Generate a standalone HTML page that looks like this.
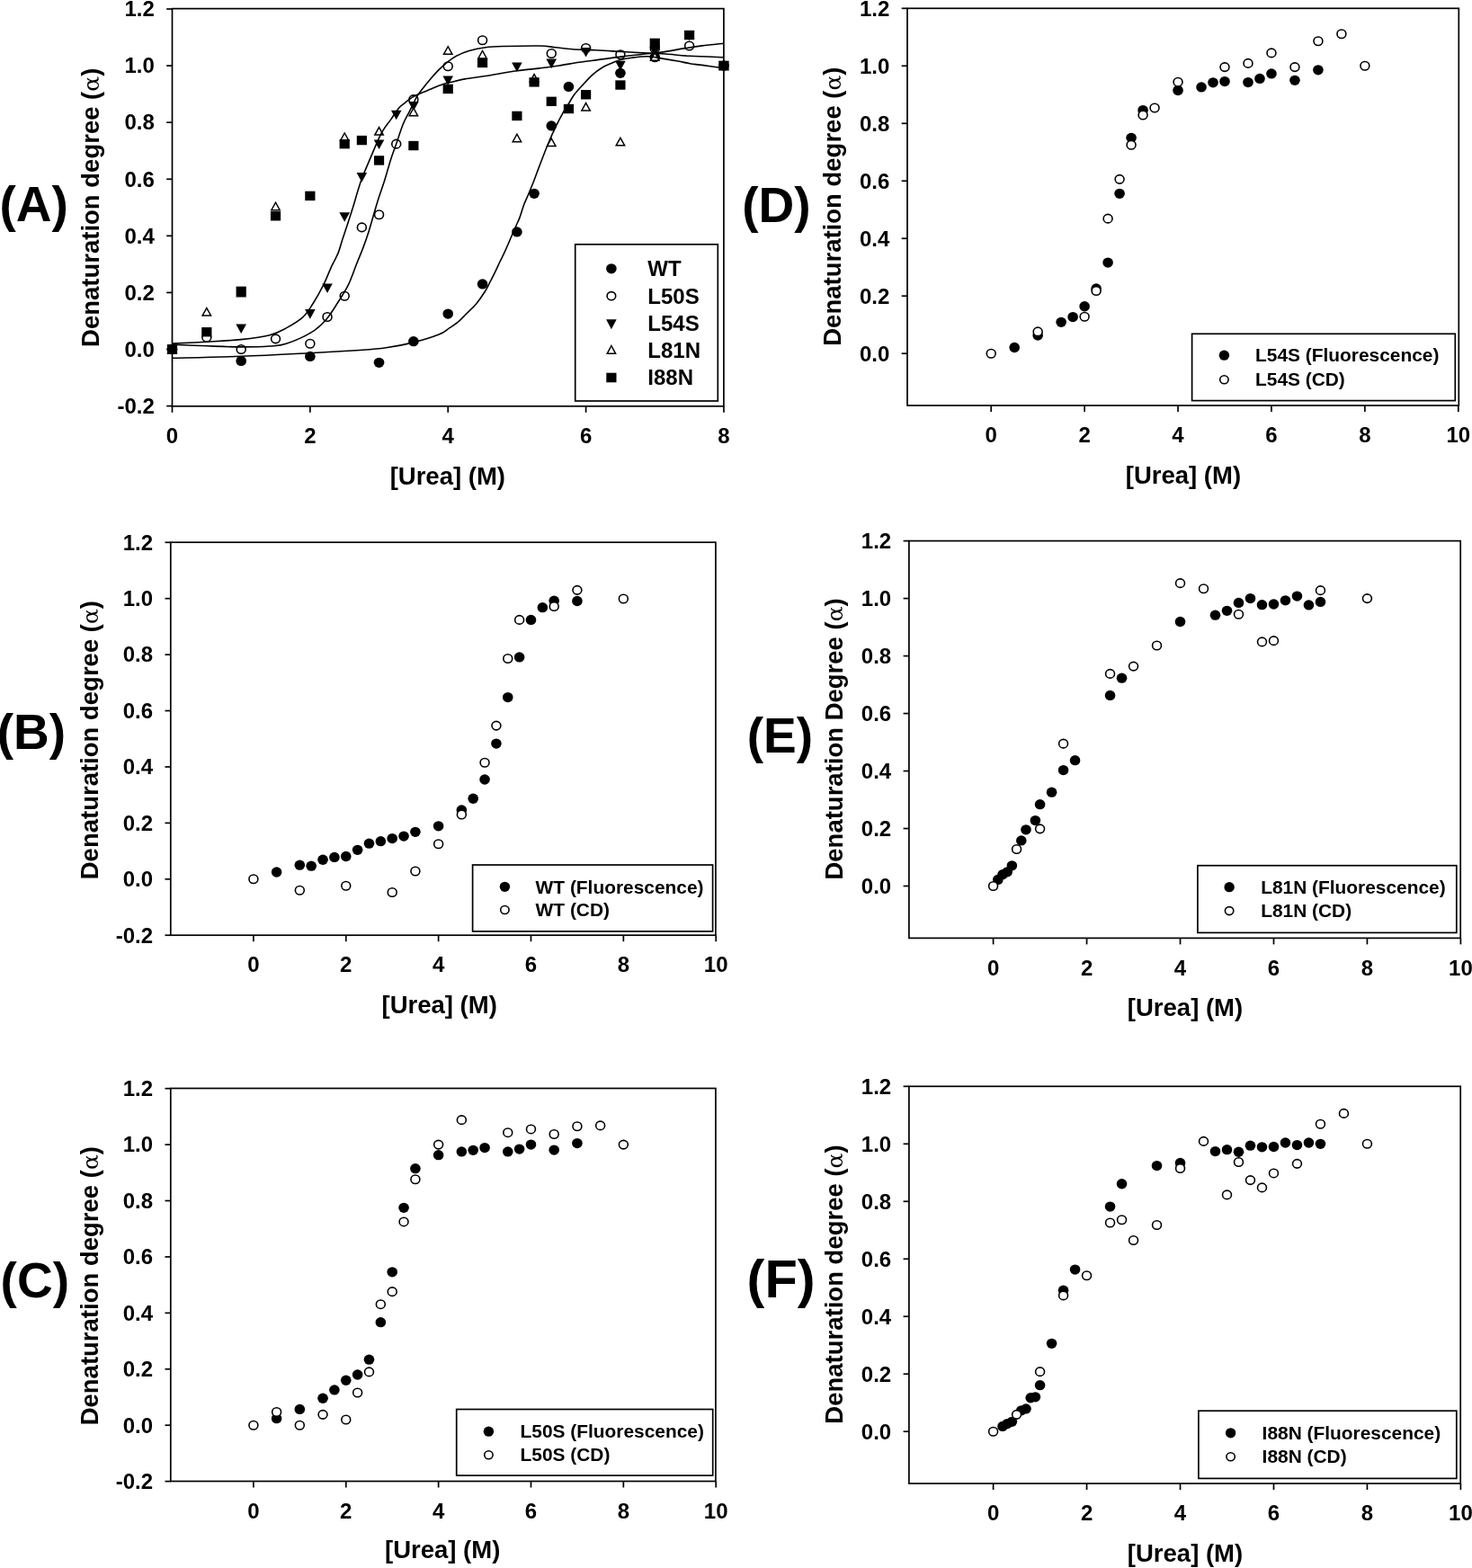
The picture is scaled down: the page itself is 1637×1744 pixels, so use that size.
<!DOCTYPE html>
<html><head><meta charset="utf-8"><title>Denaturation curves</title>
<style>html,body{margin:0;padding:0;background:#fff;}body{width:1637px;height:1744px;overflow:hidden;}svg{display:block;}</style>
</head><body>
<svg width="1637" height="1744" viewBox="0 0 1637 1744" font-family='"Liberation Sans", Arial, Helvetica, sans-serif' fill="#000">
<rect x="0" y="0" width="1637" height="1744" fill="#fff"/>
<rect x="191.5" y="9.6" width="613.4" height="442.2" fill="none" stroke="#000" stroke-width="1.7"/>
<line x1="185.2" y1="451.58" x2="191.5" y2="451.58" stroke="#000" stroke-width="1.7"/>
<text x="171.8" y="459.88" font-size="24" font-weight="bold" text-anchor="end">-0.2</text>
<line x1="185.2" y1="388.5" x2="191.5" y2="388.5" stroke="#000" stroke-width="1.7"/>
<text x="171.8" y="396.8" font-size="24" font-weight="bold" text-anchor="end">0.0</text>
<line x1="185.2" y1="325.42" x2="191.5" y2="325.42" stroke="#000" stroke-width="1.7"/>
<text x="171.8" y="333.72" font-size="24" font-weight="bold" text-anchor="end">0.2</text>
<line x1="185.2" y1="262.34" x2="191.5" y2="262.34" stroke="#000" stroke-width="1.7"/>
<text x="171.8" y="270.64" font-size="24" font-weight="bold" text-anchor="end">0.4</text>
<line x1="185.2" y1="199.26" x2="191.5" y2="199.26" stroke="#000" stroke-width="1.7"/>
<text x="171.8" y="207.56" font-size="24" font-weight="bold" text-anchor="end">0.6</text>
<line x1="185.2" y1="136.18" x2="191.5" y2="136.18" stroke="#000" stroke-width="1.7"/>
<text x="171.8" y="144.48" font-size="24" font-weight="bold" text-anchor="end">0.8</text>
<line x1="185.2" y1="73.1" x2="191.5" y2="73.1" stroke="#000" stroke-width="1.7"/>
<text x="171.8" y="81.4" font-size="24" font-weight="bold" text-anchor="end">1.0</text>
<line x1="185.2" y1="10.02" x2="191.5" y2="10.02" stroke="#000" stroke-width="1.7"/>
<text x="171.8" y="18.32" font-size="24" font-weight="bold" text-anchor="end">1.2</text>
<line x1="191.5" y1="451.8" x2="191.5" y2="458.8" stroke="#000" stroke-width="1.7"/>
<text x="191.5" y="493" font-size="24" font-weight="bold" text-anchor="middle">0</text>
<line x1="344.86" y1="451.8" x2="344.86" y2="458.8" stroke="#000" stroke-width="1.7"/>
<text x="344.86" y="493" font-size="24" font-weight="bold" text-anchor="middle">2</text>
<line x1="498.22" y1="451.8" x2="498.22" y2="458.8" stroke="#000" stroke-width="1.7"/>
<text x="498.22" y="493" font-size="24" font-weight="bold" text-anchor="middle">4</text>
<line x1="651.58" y1="451.8" x2="651.58" y2="458.8" stroke="#000" stroke-width="1.7"/>
<text x="651.58" y="493" font-size="24" font-weight="bold" text-anchor="middle">6</text>
<line x1="804.94" y1="451.8" x2="804.94" y2="458.8" stroke="#000" stroke-width="1.7"/>
<text x="804.94" y="493" font-size="24" font-weight="bold" text-anchor="middle">8</text>
<text transform="translate(109.9,230.8) rotate(-90)" font-size="27.5" font-weight="bold" text-anchor="middle">Denaturation degree (<tspan font-family="DejaVu Serif, Liberation Serif, serif" font-size="25" font-weight="normal" font-style="normal">&#945;</tspan>)</text>
<text x="497.8" y="539.2" font-size="27.5" font-weight="bold" text-anchor="middle">[Urea] (M)</text>
<text x="-0.5" y="245.5" font-size="55" font-weight="bold" text-anchor="start">(A)</text>
<ellipse cx="191.5" cy="388.5" rx="5.8" ry="5.65" fill="#000"/>
<ellipse cx="268.18" cy="401.43" rx="5.8" ry="5.65" fill="#000"/>
<ellipse cx="344.86" cy="396.38" rx="5.8" ry="5.65" fill="#000"/>
<ellipse cx="421.54" cy="403.32" rx="5.8" ry="5.65" fill="#000"/>
<ellipse cx="459.88" cy="379.67" rx="5.8" ry="5.65" fill="#000"/>
<ellipse cx="498.22" cy="349.07" rx="5.8" ry="5.65" fill="#000"/>
<ellipse cx="536.56" cy="315.96" rx="5.8" ry="5.65" fill="#000"/>
<ellipse cx="574.9" cy="257.92" rx="5.8" ry="5.65" fill="#000"/>
<ellipse cx="594.07" cy="215.35" rx="5.8" ry="5.65" fill="#000"/>
<ellipse cx="613.24" cy="139.96" rx="5.8" ry="5.65" fill="#000"/>
<ellipse cx="632.41" cy="96.44" rx="5.8" ry="5.65" fill="#000"/>
<ellipse cx="689.92" cy="81.3" rx="5.8" ry="5.65" fill="#000"/>
<ellipse cx="728.26" cy="63.64" rx="5.8" ry="5.65" fill="#000"/>
<ellipse cx="804.94" cy="73.1" rx="5.8" ry="5.65" fill="#000"/>
<ellipse cx="191.5" cy="388.5" rx="4.95" ry="4.75" fill="#fff" stroke="#000" stroke-width="1.6"/>
<ellipse cx="229.84" cy="375.25" rx="4.95" ry="4.75" fill="#fff" stroke="#000" stroke-width="1.6"/>
<ellipse cx="268.18" cy="388.5" rx="4.95" ry="4.75" fill="#fff" stroke="#000" stroke-width="1.6"/>
<ellipse cx="306.52" cy="376.83" rx="4.95" ry="4.75" fill="#fff" stroke="#000" stroke-width="1.6"/>
<ellipse cx="344.86" cy="382.19" rx="4.95" ry="4.75" fill="#fff" stroke="#000" stroke-width="1.6"/>
<ellipse cx="364.03" cy="352.54" rx="4.95" ry="4.75" fill="#fff" stroke="#000" stroke-width="1.6"/>
<ellipse cx="383.2" cy="329.2" rx="4.95" ry="4.75" fill="#fff" stroke="#000" stroke-width="1.6"/>
<ellipse cx="402.37" cy="252.88" rx="4.95" ry="4.75" fill="#fff" stroke="#000" stroke-width="1.6"/>
<ellipse cx="421.54" cy="238.69" rx="4.95" ry="4.75" fill="#fff" stroke="#000" stroke-width="1.6"/>
<ellipse cx="440.71" cy="160.15" rx="4.95" ry="4.75" fill="#fff" stroke="#000" stroke-width="1.6"/>
<ellipse cx="459.88" cy="110.63" rx="4.95" ry="4.75" fill="#fff" stroke="#000" stroke-width="1.6"/>
<ellipse cx="498.22" cy="73.73" rx="4.95" ry="4.75" fill="#fff" stroke="#000" stroke-width="1.6"/>
<ellipse cx="536.56" cy="44.71" rx="4.95" ry="4.75" fill="#fff" stroke="#000" stroke-width="1.6"/>
<ellipse cx="613.24" cy="59.54" rx="4.95" ry="4.75" fill="#fff" stroke="#000" stroke-width="1.6"/>
<ellipse cx="651.58" cy="53.55" rx="4.95" ry="4.75" fill="#fff" stroke="#000" stroke-width="1.6"/>
<ellipse cx="689.92" cy="60.8" rx="4.95" ry="4.75" fill="#fff" stroke="#000" stroke-width="1.6"/>
<ellipse cx="728.26" cy="54.18" rx="4.95" ry="4.75" fill="#fff" stroke="#000" stroke-width="1.6"/>
<ellipse cx="766.6" cy="51.02" rx="4.95" ry="4.75" fill="#fff" stroke="#000" stroke-width="1.6"/>
<ellipse cx="804.94" cy="73.1" rx="4.95" ry="4.75" fill="#fff" stroke="#000" stroke-width="1.6"/>
<polygon points="185.7,383.2 197.3,383.2 191.5,393.8" fill="#000"/>
<polygon points="262.38,360.49 273.98,360.49 268.18,371.09" fill="#000"/>
<polygon points="339.06,344.09 350.66,344.09 344.86,354.69" fill="#000"/>
<polygon points="358.23,315.39 369.83,315.39 364.03,325.99" fill="#000"/>
<polygon points="377.4,236.22 389,236.22 383.2,246.82" fill="#000"/>
<polygon points="396.57,192.07 408.17,192.07 402.37,202.67" fill="#000"/>
<polygon points="415.74,155.48 427.34,155.48 421.54,166.08" fill="#000"/>
<polygon points="434.91,122.68 446.51,122.68 440.71,133.28" fill="#000"/>
<polygon points="454.08,112.9 465.68,112.9 459.88,123.5" fill="#000"/>
<polygon points="492.42,84.52 504.02,84.52 498.22,95.12" fill="#000"/>
<polygon points="569.1,69.38 580.7,69.38 574.9,79.98" fill="#000"/>
<polygon points="607.44,65.59 619.04,65.59 613.24,76.19" fill="#000"/>
<polygon points="645.78,52.98 657.38,52.98 651.58,63.58" fill="#000"/>
<polygon points="684.12,67.8 695.72,67.8 689.92,78.4" fill="#000"/>
<polygon points="722.46,52.03 734.06,52.03 728.26,62.63" fill="#000"/>
<polygon points="760.8,34.68 772.4,34.68 766.6,45.28" fill="#000"/>
<polygon points="799.14,67.8 810.74,67.8 804.94,78.4" fill="#000"/>
<polygon points="186.8,392.95 196.2,392.95 191.5,384.5" fill="#fff" stroke="#000" stroke-width="1.5" stroke-linejoin="miter"/>
<polygon points="225.14,351 234.54,351 229.84,342.55" fill="#fff" stroke="#000" stroke-width="1.5" stroke-linejoin="miter"/>
<polygon points="263.48,329.87 272.88,329.87 268.18,321.42" fill="#fff" stroke="#000" stroke-width="1.5" stroke-linejoin="miter"/>
<polygon points="301.82,233.67 311.22,233.67 306.52,225.22" fill="#fff" stroke="#000" stroke-width="1.5" stroke-linejoin="miter"/>
<polygon points="378.5,156.4 387.9,156.4 383.2,147.95" fill="#fff" stroke="#000" stroke-width="1.5" stroke-linejoin="miter"/>
<polygon points="416.84,150.09 426.24,150.09 421.54,141.64" fill="#fff" stroke="#000" stroke-width="1.5" stroke-linejoin="miter"/>
<polygon points="455.18,128.64 464.58,128.64 459.88,120.19" fill="#fff" stroke="#000" stroke-width="1.5" stroke-linejoin="miter"/>
<polygon points="493.52,60.2 502.92,60.2 498.22,51.75" fill="#fff" stroke="#000" stroke-width="1.5" stroke-linejoin="miter"/>
<polygon points="531.86,64.93 541.26,64.93 536.56,56.48" fill="#fff" stroke="#000" stroke-width="1.5" stroke-linejoin="miter"/>
<polygon points="570.2,157.66 579.6,157.66 574.9,149.21" fill="#fff" stroke="#000" stroke-width="1.5" stroke-linejoin="miter"/>
<polygon points="589.37,91.11 598.77,91.11 594.07,82.66" fill="#fff" stroke="#000" stroke-width="1.5" stroke-linejoin="miter"/>
<polygon points="608.54,162.39 617.94,162.39 613.24,153.94" fill="#fff" stroke="#000" stroke-width="1.5" stroke-linejoin="miter"/>
<polygon points="646.88,122.97 656.28,122.97 651.58,114.52" fill="#fff" stroke="#000" stroke-width="1.5" stroke-linejoin="miter"/>
<polygon points="685.22,161.76 694.62,161.76 689.92,153.31" fill="#fff" stroke="#000" stroke-width="1.5" stroke-linejoin="miter"/>
<polygon points="723.56,67.14 732.96,67.14 728.26,58.69" fill="#fff" stroke="#000" stroke-width="1.5" stroke-linejoin="miter"/>
<polygon points="800.24,77.55 809.64,77.55 804.94,69.1" fill="#fff" stroke="#000" stroke-width="1.5" stroke-linejoin="miter"/>
<rect x="185.9" y="383.3" width="11.2" height="10.4" fill="#000"/>
<rect x="224.24" y="364.06" width="11.2" height="10.4" fill="#000"/>
<rect x="262.58" y="318.64" width="11.2" height="10.4" fill="#000"/>
<rect x="300.92" y="235.06" width="11.2" height="10.4" fill="#000"/>
<rect x="339.26" y="212.67" width="11.2" height="10.4" fill="#000"/>
<rect x="377.6" y="154.95" width="11.2" height="10.4" fill="#000"/>
<rect x="396.77" y="150.85" width="11.2" height="10.4" fill="#000"/>
<rect x="415.94" y="173.24" width="11.2" height="10.4" fill="#000"/>
<rect x="454.28" y="156.84" width="11.2" height="10.4" fill="#000"/>
<rect x="492.62" y="93.76" width="11.2" height="10.4" fill="#000"/>
<rect x="530.96" y="64.75" width="11.2" height="10.4" fill="#000"/>
<rect x="569.3" y="123.73" width="11.2" height="10.4" fill="#000"/>
<rect x="588.47" y="86.19" width="11.2" height="10.4" fill="#000"/>
<rect x="607.64" y="107.64" width="11.2" height="10.4" fill="#000"/>
<rect x="626.81" y="115.84" width="11.2" height="10.4" fill="#000"/>
<rect x="645.98" y="100.07" width="11.2" height="10.4" fill="#000"/>
<rect x="684.32" y="89.35" width="11.2" height="10.4" fill="#000"/>
<rect x="722.66" y="42.67" width="11.2" height="10.4" fill="#000"/>
<rect x="761" y="33.84" width="11.2" height="10.4" fill="#000"/>
<rect x="799.34" y="67.9" width="11.2" height="10.4" fill="#000"/>
<path d="M191.5,398.3 C204.28,397.97 242.82,397.23 268.2,396.3 C293.58,395.37 321.83,393.83 343.8,392.7 C365.77,391.57 385.75,390.48 400,389.5 C414.25,388.52 419.33,388.23 429.3,386.8 C439.27,385.37 450.02,383.35 459.8,380.9 C469.58,378.45 481.3,374.8 488,372.1 C494.7,369.4 496.38,367.07 500,364.7 C503.62,362.33 506.62,360.5 509.7,357.9 C512.78,355.3 515.25,352.35 518.5,349.1 C521.75,345.85 525.78,342.45 529.2,338.4 C532.62,334.35 536.4,328.87 539,324.8 C541.6,320.73 542.85,317.75 544.8,314 C546.75,310.25 548.83,306.13 550.7,302.3 C552.57,298.47 554.22,294.73 556,291 C557.78,287.27 559.37,284.35 561.4,279.9 C563.43,275.45 566.08,269.17 568.2,264.3 C570.32,259.43 572.47,254.43 574.1,250.7 C575.73,246.97 576.55,245.8 578,241.9 C579.45,238 581.18,231.62 582.8,227.3 C584.42,222.98 585.83,220.47 587.7,216 C589.57,211.53 591.95,205.77 594,200.5 C596.05,195.23 597.42,191.15 600,184.4 C602.58,177.65 606.45,167.33 609.5,160 C612.55,152.67 615.37,146.47 618.3,140.4 C621.23,134.33 624.77,127.75 627.1,123.6 C629.43,119.45 630.47,118.43 632.3,115.5 C634.13,112.57 635.67,109.3 638.1,106 C640.53,102.7 643.47,99.48 646.9,95.7 C650.33,91.92 654.92,86.72 658.7,83.3 C662.48,79.88 665.95,77.4 669.6,75.2 C673.25,73 677.17,71.57 680.6,70.1 C684.03,68.63 686.53,67.38 690.2,66.4 C693.87,65.42 697.63,64.82 702.6,64.2 C707.57,63.58 714.83,62.63 720,62.7 C725.17,62.77 727.97,63.72 733.6,64.6 C739.23,65.48 748.2,66.98 753.8,68 C759.4,69.02 762.73,69.97 767.2,70.7 C771.67,71.43 774.32,71.55 780.6,72.4 C786.88,73.25 800.85,75.23 804.9,75.8" fill="none" stroke="#000" stroke-width="1.6"/>
<path d="M191.5,383.2 C197.92,383.47 217.23,384.35 230,384.8 C242.77,385.25 256.43,385.87 268.1,385.9 C279.77,385.93 291.63,385.6 300,385 C308.37,384.4 310.65,384.82 318.3,382.3 C325.95,379.78 338.55,374.33 345.9,369.9 C353.25,365.47 357.52,361.13 362.4,355.7 C367.28,350.27 371.07,343.72 375.2,337.3 C379.33,330.88 383.68,324.38 387.2,317.2 C390.72,310.02 393.55,301.08 396.3,294.2 C399.05,287.32 401.4,282.02 403.7,275.9 C406,269.78 407.97,264.23 410.1,257.5 C412.23,250.77 414.6,241.92 416.5,235.5 C418.4,229.08 419.6,224.92 421.5,219 C423.4,213.08 425.7,207.02 427.9,200 C430.1,192.98 432.58,183.53 434.7,176.9 C436.82,170.27 438.32,166.72 440.6,160.2 C442.88,153.68 445.95,143.82 448.4,137.8 C450.85,131.78 452.85,129 455.3,124.1 C457.75,119.2 460.67,112.63 463.1,108.4 C465.53,104.17 467.45,101.95 469.9,98.7 C472.35,95.45 474.87,92.33 477.8,88.9 C480.73,85.47 484.25,81.37 487.5,78.1 C490.75,74.83 494.03,71.9 497.3,69.3 C500.57,66.7 503.03,64.62 507.1,62.5 C511.17,60.38 516.22,58.23 521.7,56.6 C527.18,54.97 533.62,53.55 540,52.7 C546.38,51.85 550,51.78 560,51.5 C570,51.22 590.28,50.78 600,51 C609.72,51.22 612.18,52.18 618.3,52.8 C624.42,53.42 629.37,54.2 636.7,54.7 C644.03,55.2 654.98,55.43 662.3,55.8 C669.62,56.17 670.98,56.35 680.6,56.9 C690.22,57.45 710.05,58.58 720,59.1 C729.95,59.62 732.43,59.47 740.3,60 C748.17,60.53 756.43,61.67 767.2,62.3 C777.97,62.93 798.62,63.55 804.9,63.8" fill="none" stroke="#000" stroke-width="1.6"/>
<path d="M191.5,382.1 C197.92,381.78 217.23,380.95 230,380.2 C242.77,379.45 256.43,378.85 268.1,377.6 C279.77,376.35 291.63,374.82 300,372.7 C308.37,370.58 312.18,368.2 318.3,364.9 C324.42,361.6 331.8,357.33 336.7,352.9 C341.6,348.47 343.88,344.25 347.7,338.3 C351.52,332.35 356.08,324.23 359.6,317.2 C363.12,310.17 366.05,302.07 368.8,296.1 C371.55,290.13 374.12,286.3 376.1,281.4 C378.08,276.5 379.02,271.9 380.7,266.7 C382.38,261.5 384.2,256.32 386.2,250.2 C388.2,244.08 390.73,236.37 392.7,230 C394.67,223.63 396.28,217.5 398,212 C399.72,206.5 400.62,203.18 403,197 C405.38,190.82 409.13,182.33 412.3,174.9 C415.47,167.47 419.57,157.62 422,152.4 C424.43,147.18 424.78,146.85 426.9,143.6 C429.02,140.35 431.93,136.8 434.7,132.9 C437.47,129 440.88,123.3 443.5,120.2 C446.12,117.1 447.95,116.27 450.4,114.3 C452.85,112.33 455.6,110.03 458.2,108.4 C460.8,106.77 462.73,105.97 466,104.5 C469.27,103.03 473.4,101.38 477.8,99.6 C482.2,97.82 488.33,95.18 492.4,93.8 C496.47,92.42 498.12,92.28 502.2,91.3 C506.28,90.32 510.6,89.03 516.9,87.9 C523.2,86.77 530.35,86.02 540,84.5 C549.65,82.98 564.8,80.23 574.8,78.8 C584.8,77.37 592.13,76.87 600,75.9 C607.87,74.93 614.67,74.1 622,73 C629.33,71.9 636.67,70.4 644,69.3 C651.33,68.2 657.93,67.47 666,66.4 C674.07,65.33 681.13,64.25 692.4,62.9 C703.67,61.55 722.25,59.8 733.6,58.3 C744.95,56.8 752.67,55.13 760.5,53.9 C768.33,52.67 773.2,51.85 780.6,50.9 C788,49.95 800.85,48.65 804.9,48.2" fill="none" stroke="#000" stroke-width="1.6"/>
<rect x="639.7" y="271.8" width="158.6" height="174.2" fill="#fff" stroke="#000" stroke-width="1.7"/>
<ellipse cx="679.9" cy="298.8" rx="5.8" ry="5.6" fill="#000"/>
<ellipse cx="679.9" cy="329.2" rx="4.8" ry="4.6" fill="#fff" stroke="#000" stroke-width="1.6"/>
<polygon points="674.1,355.2 685.7,355.2 679.9,366.2" fill="#000"/>
<polygon points="675.2,393.35 684.6,393.35 679.9,384.5" fill="#fff" stroke="#000" stroke-width="1.5" stroke-linejoin="miter"/>
<rect x="674.3" y="414.7" width="11.2" height="10.6" fill="#000"/>
<text x="720.3" y="307.2" font-size="24" font-weight="bold" text-anchor="start">WT</text>
<text x="720.3" y="337.8" font-size="24" font-weight="bold" text-anchor="start">L50S</text>
<text x="720.3" y="368.4" font-size="24" font-weight="bold" text-anchor="start">L54S</text>
<text x="720.3" y="398.2" font-size="24" font-weight="bold" text-anchor="start">L81N</text>
<text x="720.3" y="428" font-size="24" font-weight="bold" text-anchor="start">I88N</text>
<rect x="189.8" y="603.2" width="606.1" height="437" fill="none" stroke="#000" stroke-width="1.7"/>
<line x1="183.5" y1="1040.22" x2="189.8" y2="1040.22" stroke="#000" stroke-width="1.7"/>
<text x="170.1" y="1048.52" font-size="24" font-weight="bold" text-anchor="end">-0.2</text>
<line x1="183.5" y1="977.8" x2="189.8" y2="977.8" stroke="#000" stroke-width="1.7"/>
<text x="170.1" y="986.1" font-size="24" font-weight="bold" text-anchor="end">0.0</text>
<line x1="183.5" y1="915.38" x2="189.8" y2="915.38" stroke="#000" stroke-width="1.7"/>
<text x="170.1" y="923.68" font-size="24" font-weight="bold" text-anchor="end">0.2</text>
<line x1="183.5" y1="852.96" x2="189.8" y2="852.96" stroke="#000" stroke-width="1.7"/>
<text x="170.1" y="861.26" font-size="24" font-weight="bold" text-anchor="end">0.4</text>
<line x1="183.5" y1="790.54" x2="189.8" y2="790.54" stroke="#000" stroke-width="1.7"/>
<text x="170.1" y="798.84" font-size="24" font-weight="bold" text-anchor="end">0.6</text>
<line x1="183.5" y1="728.12" x2="189.8" y2="728.12" stroke="#000" stroke-width="1.7"/>
<text x="170.1" y="736.42" font-size="24" font-weight="bold" text-anchor="end">0.8</text>
<line x1="183.5" y1="665.7" x2="189.8" y2="665.7" stroke="#000" stroke-width="1.7"/>
<text x="170.1" y="674" font-size="24" font-weight="bold" text-anchor="end">1.0</text>
<line x1="183.5" y1="603.28" x2="189.8" y2="603.28" stroke="#000" stroke-width="1.7"/>
<text x="170.1" y="611.58" font-size="24" font-weight="bold" text-anchor="end">1.2</text>
<line x1="281.9" y1="1040.2" x2="281.9" y2="1047.2" stroke="#000" stroke-width="1.7"/>
<text x="281.9" y="1081.4" font-size="24" font-weight="bold" text-anchor="middle">0</text>
<line x1="384.76" y1="1040.2" x2="384.76" y2="1047.2" stroke="#000" stroke-width="1.7"/>
<text x="384.76" y="1081.4" font-size="24" font-weight="bold" text-anchor="middle">2</text>
<line x1="487.62" y1="1040.2" x2="487.62" y2="1047.2" stroke="#000" stroke-width="1.7"/>
<text x="487.62" y="1081.4" font-size="24" font-weight="bold" text-anchor="middle">4</text>
<line x1="590.48" y1="1040.2" x2="590.48" y2="1047.2" stroke="#000" stroke-width="1.7"/>
<text x="590.48" y="1081.4" font-size="24" font-weight="bold" text-anchor="middle">6</text>
<line x1="693.34" y1="1040.2" x2="693.34" y2="1047.2" stroke="#000" stroke-width="1.7"/>
<text x="693.34" y="1081.4" font-size="24" font-weight="bold" text-anchor="middle">8</text>
<line x1="796.2" y1="1040.2" x2="796.2" y2="1047.2" stroke="#000" stroke-width="1.7"/>
<text x="796.2" y="1081.4" font-size="24" font-weight="bold" text-anchor="middle">10</text>
<text transform="translate(108.9,823.1) rotate(-90)" font-size="27.5" font-weight="bold" text-anchor="middle">Denaturation degree (<tspan font-family="DejaVu Serif, Liberation Serif, serif" font-size="25" font-weight="normal" font-style="normal">&#945;</tspan>)</text>
<text x="488.7" y="1126.7" font-size="27.5" font-weight="bold" text-anchor="middle">[Urea] (M)</text>
<text x="-3.3" y="832.6" font-size="55" font-weight="bold" text-anchor="start">(B)</text>
<ellipse cx="307.61" cy="970" rx="5.8" ry="5.65" fill="#000"/>
<ellipse cx="333.33" cy="962.19" rx="5.8" ry="5.65" fill="#000"/>
<ellipse cx="346.19" cy="963.13" rx="5.8" ry="5.65" fill="#000"/>
<ellipse cx="359.04" cy="956.27" rx="5.8" ry="5.65" fill="#000"/>
<ellipse cx="371.9" cy="953.46" rx="5.8" ry="5.65" fill="#000"/>
<ellipse cx="384.76" cy="952.52" rx="5.8" ry="5.65" fill="#000"/>
<ellipse cx="397.62" cy="945.34" rx="5.8" ry="5.65" fill="#000"/>
<ellipse cx="410.47" cy="938.16" rx="5.8" ry="5.65" fill="#000"/>
<ellipse cx="423.33" cy="935.67" rx="5.8" ry="5.65" fill="#000"/>
<ellipse cx="436.19" cy="932.55" rx="5.8" ry="5.65" fill="#000"/>
<ellipse cx="449.05" cy="930.05" rx="5.8" ry="5.65" fill="#000"/>
<ellipse cx="461.9" cy="925.37" rx="5.8" ry="5.65" fill="#000"/>
<ellipse cx="487.62" cy="918.81" rx="5.8" ry="5.65" fill="#000"/>
<ellipse cx="513.34" cy="901.02" rx="5.8" ry="5.65" fill="#000"/>
<ellipse cx="526.19" cy="888.23" rx="5.8" ry="5.65" fill="#000"/>
<ellipse cx="539.05" cy="867" rx="5.8" ry="5.65" fill="#000"/>
<ellipse cx="551.91" cy="827.06" rx="5.8" ry="5.65" fill="#000"/>
<ellipse cx="564.76" cy="775.56" rx="5.8" ry="5.65" fill="#000"/>
<ellipse cx="577.62" cy="730.93" rx="5.8" ry="5.65" fill="#000"/>
<ellipse cx="590.48" cy="689.42" rx="5.8" ry="5.65" fill="#000"/>
<ellipse cx="603.34" cy="675.69" rx="5.8" ry="5.65" fill="#000"/>
<ellipse cx="616.19" cy="668.2" rx="5.8" ry="5.65" fill="#000"/>
<ellipse cx="641.91" cy="668.51" rx="5.8" ry="5.65" fill="#000"/>
<ellipse cx="281.9" cy="977.8" rx="4.95" ry="4.75" fill="#fff" stroke="#000" stroke-width="1.6"/>
<ellipse cx="333.33" cy="990.28" rx="4.95" ry="4.75" fill="#fff" stroke="#000" stroke-width="1.6"/>
<ellipse cx="384.76" cy="985.29" rx="4.95" ry="4.75" fill="#fff" stroke="#000" stroke-width="1.6"/>
<ellipse cx="436.19" cy="992.47" rx="4.95" ry="4.75" fill="#fff" stroke="#000" stroke-width="1.6"/>
<ellipse cx="461.9" cy="969.06" rx="4.95" ry="4.75" fill="#fff" stroke="#000" stroke-width="1.6"/>
<ellipse cx="487.62" cy="938.79" rx="4.95" ry="4.75" fill="#fff" stroke="#000" stroke-width="1.6"/>
<ellipse cx="513.34" cy="906.02" rx="4.95" ry="4.75" fill="#fff" stroke="#000" stroke-width="1.6"/>
<ellipse cx="539.05" cy="848.28" rx="4.95" ry="4.75" fill="#fff" stroke="#000" stroke-width="1.6"/>
<ellipse cx="551.91" cy="807.08" rx="4.95" ry="4.75" fill="#fff" stroke="#000" stroke-width="1.6"/>
<ellipse cx="564.76" cy="732.49" rx="4.95" ry="4.75" fill="#fff" stroke="#000" stroke-width="1.6"/>
<ellipse cx="577.62" cy="689.42" rx="4.95" ry="4.75" fill="#fff" stroke="#000" stroke-width="1.6"/>
<ellipse cx="616.19" cy="674.44" rx="4.95" ry="4.75" fill="#fff" stroke="#000" stroke-width="1.6"/>
<ellipse cx="641.91" cy="656.34" rx="4.95" ry="4.75" fill="#fff" stroke="#000" stroke-width="1.6"/>
<ellipse cx="693.34" cy="666.01" rx="4.95" ry="4.75" fill="#fff" stroke="#000" stroke-width="1.6"/>
<rect x="525.6" y="962" width="267" height="73.9" fill="#fff" stroke="#000" stroke-width="1.7"/>
<ellipse cx="561.4" cy="986.3" rx="5.7" ry="5.6" fill="#000"/>
<ellipse cx="561.4" cy="1012" rx="4.7" ry="4.5" fill="#fff" stroke="#000" stroke-width="1.6"/>
<text x="595.6" y="993.5" font-size="20.9" font-weight="bold" text-anchor="start">WT (Fluorescence)</text>
<text x="595.6" y="1019.2" font-size="20.9" font-weight="bold" text-anchor="start">WT (CD)</text>
<rect x="189.8" y="1210.5" width="606.1" height="437" fill="none" stroke="#000" stroke-width="1.7"/>
<line x1="183.5" y1="1647.62" x2="189.8" y2="1647.62" stroke="#000" stroke-width="1.7"/>
<text x="170.1" y="1655.92" font-size="24" font-weight="bold" text-anchor="end">-0.2</text>
<line x1="183.5" y1="1585.2" x2="189.8" y2="1585.2" stroke="#000" stroke-width="1.7"/>
<text x="170.1" y="1593.5" font-size="24" font-weight="bold" text-anchor="end">0.0</text>
<line x1="183.5" y1="1522.78" x2="189.8" y2="1522.78" stroke="#000" stroke-width="1.7"/>
<text x="170.1" y="1531.08" font-size="24" font-weight="bold" text-anchor="end">0.2</text>
<line x1="183.5" y1="1460.36" x2="189.8" y2="1460.36" stroke="#000" stroke-width="1.7"/>
<text x="170.1" y="1468.66" font-size="24" font-weight="bold" text-anchor="end">0.4</text>
<line x1="183.5" y1="1397.94" x2="189.8" y2="1397.94" stroke="#000" stroke-width="1.7"/>
<text x="170.1" y="1406.24" font-size="24" font-weight="bold" text-anchor="end">0.6</text>
<line x1="183.5" y1="1335.52" x2="189.8" y2="1335.52" stroke="#000" stroke-width="1.7"/>
<text x="170.1" y="1343.82" font-size="24" font-weight="bold" text-anchor="end">0.8</text>
<line x1="183.5" y1="1273.1" x2="189.8" y2="1273.1" stroke="#000" stroke-width="1.7"/>
<text x="170.1" y="1281.4" font-size="24" font-weight="bold" text-anchor="end">1.0</text>
<line x1="183.5" y1="1210.68" x2="189.8" y2="1210.68" stroke="#000" stroke-width="1.7"/>
<text x="170.1" y="1218.98" font-size="24" font-weight="bold" text-anchor="end">1.2</text>
<line x1="281.9" y1="1647.5" x2="281.9" y2="1654.5" stroke="#000" stroke-width="1.7"/>
<text x="281.9" y="1688.7" font-size="24" font-weight="bold" text-anchor="middle">0</text>
<line x1="384.76" y1="1647.5" x2="384.76" y2="1654.5" stroke="#000" stroke-width="1.7"/>
<text x="384.76" y="1688.7" font-size="24" font-weight="bold" text-anchor="middle">2</text>
<line x1="487.62" y1="1647.5" x2="487.62" y2="1654.5" stroke="#000" stroke-width="1.7"/>
<text x="487.62" y="1688.7" font-size="24" font-weight="bold" text-anchor="middle">4</text>
<line x1="590.48" y1="1647.5" x2="590.48" y2="1654.5" stroke="#000" stroke-width="1.7"/>
<text x="590.48" y="1688.7" font-size="24" font-weight="bold" text-anchor="middle">6</text>
<line x1="693.34" y1="1647.5" x2="693.34" y2="1654.5" stroke="#000" stroke-width="1.7"/>
<text x="693.34" y="1688.7" font-size="24" font-weight="bold" text-anchor="middle">8</text>
<line x1="796.2" y1="1647.5" x2="796.2" y2="1654.5" stroke="#000" stroke-width="1.7"/>
<text x="796.2" y="1688.7" font-size="24" font-weight="bold" text-anchor="middle">10</text>
<text transform="translate(108.9,1430.2) rotate(-90)" font-size="27.5" font-weight="bold" text-anchor="middle">Denaturation degree (<tspan font-family="DejaVu Serif, Liberation Serif, serif" font-size="25" font-weight="normal" font-style="normal">&#945;</tspan>)</text>
<text x="492.2" y="1733" font-size="27.5" font-weight="bold" text-anchor="middle">[Urea] (M)</text>
<text x="0.6" y="1442.6" font-size="55" font-weight="bold" text-anchor="start">(C)</text>
<ellipse cx="307.61" cy="1577.71" rx="5.8" ry="5.65" fill="#000"/>
<ellipse cx="333.33" cy="1567.41" rx="5.8" ry="5.65" fill="#000"/>
<ellipse cx="359.04" cy="1555.24" rx="5.8" ry="5.65" fill="#000"/>
<ellipse cx="371.9" cy="1545.88" rx="5.8" ry="5.65" fill="#000"/>
<ellipse cx="384.76" cy="1535.26" rx="5.8" ry="5.65" fill="#000"/>
<ellipse cx="397.62" cy="1529.02" rx="5.8" ry="5.65" fill="#000"/>
<ellipse cx="410.47" cy="1512.17" rx="5.8" ry="5.65" fill="#000"/>
<ellipse cx="423.33" cy="1470.66" rx="5.8" ry="5.65" fill="#000"/>
<ellipse cx="436.19" cy="1414.79" rx="5.8" ry="5.65" fill="#000"/>
<ellipse cx="449.05" cy="1343.32" rx="5.8" ry="5.65" fill="#000"/>
<ellipse cx="461.9" cy="1299.63" rx="5.8" ry="5.65" fill="#000"/>
<ellipse cx="487.62" cy="1284.65" rx="5.8" ry="5.65" fill="#000"/>
<ellipse cx="513.34" cy="1280.9" rx="5.8" ry="5.65" fill="#000"/>
<ellipse cx="526.19" cy="1279.34" rx="5.8" ry="5.65" fill="#000"/>
<ellipse cx="539.05" cy="1276.53" rx="5.8" ry="5.65" fill="#000"/>
<ellipse cx="564.76" cy="1280.9" rx="5.8" ry="5.65" fill="#000"/>
<ellipse cx="577.62" cy="1278.09" rx="5.8" ry="5.65" fill="#000"/>
<ellipse cx="590.48" cy="1273.1" rx="5.8" ry="5.65" fill="#000"/>
<ellipse cx="616.19" cy="1279.03" rx="5.8" ry="5.65" fill="#000"/>
<ellipse cx="641.91" cy="1271.54" rx="5.8" ry="5.65" fill="#000"/>
<ellipse cx="281.9" cy="1585.2" rx="4.95" ry="4.75" fill="#fff" stroke="#000" stroke-width="1.6"/>
<ellipse cx="307.61" cy="1570.53" rx="4.95" ry="4.75" fill="#fff" stroke="#000" stroke-width="1.6"/>
<ellipse cx="333.33" cy="1585.2" rx="4.95" ry="4.75" fill="#fff" stroke="#000" stroke-width="1.6"/>
<ellipse cx="359.04" cy="1573.34" rx="4.95" ry="4.75" fill="#fff" stroke="#000" stroke-width="1.6"/>
<ellipse cx="384.76" cy="1578.96" rx="4.95" ry="4.75" fill="#fff" stroke="#000" stroke-width="1.6"/>
<ellipse cx="397.62" cy="1549" rx="4.95" ry="4.75" fill="#fff" stroke="#000" stroke-width="1.6"/>
<ellipse cx="410.47" cy="1525.9" rx="4.95" ry="4.75" fill="#fff" stroke="#000" stroke-width="1.6"/>
<ellipse cx="423.33" cy="1450.68" rx="4.95" ry="4.75" fill="#fff" stroke="#000" stroke-width="1.6"/>
<ellipse cx="436.19" cy="1436.64" rx="4.95" ry="4.75" fill="#fff" stroke="#000" stroke-width="1.6"/>
<ellipse cx="449.05" cy="1358.93" rx="4.95" ry="4.75" fill="#fff" stroke="#000" stroke-width="1.6"/>
<ellipse cx="461.9" cy="1311.8" rx="4.95" ry="4.75" fill="#fff" stroke="#000" stroke-width="1.6"/>
<ellipse cx="487.62" cy="1273.1" rx="4.95" ry="4.75" fill="#fff" stroke="#000" stroke-width="1.6"/>
<ellipse cx="513.34" cy="1245.64" rx="4.95" ry="4.75" fill="#fff" stroke="#000" stroke-width="1.6"/>
<ellipse cx="564.76" cy="1259.68" rx="4.95" ry="4.75" fill="#fff" stroke="#000" stroke-width="1.6"/>
<ellipse cx="590.48" cy="1255.93" rx="4.95" ry="4.75" fill="#fff" stroke="#000" stroke-width="1.6"/>
<ellipse cx="616.19" cy="1261.55" rx="4.95" ry="4.75" fill="#fff" stroke="#000" stroke-width="1.6"/>
<ellipse cx="641.91" cy="1252.81" rx="4.95" ry="4.75" fill="#fff" stroke="#000" stroke-width="1.6"/>
<ellipse cx="667.62" cy="1251.88" rx="4.95" ry="4.75" fill="#fff" stroke="#000" stroke-width="1.6"/>
<ellipse cx="693.34" cy="1273.1" rx="4.95" ry="4.75" fill="#fff" stroke="#000" stroke-width="1.6"/>
<rect x="507.7" y="1567.5" width="285" height="73.6" fill="#fff" stroke="#000" stroke-width="1.7"/>
<ellipse cx="543.4" cy="1592.2" rx="5.7" ry="5.6" fill="#000"/>
<ellipse cx="543.4" cy="1618.2" rx="4.7" ry="4.5" fill="#fff" stroke="#000" stroke-width="1.6"/>
<text x="578.6" y="1599.4" font-size="20.9" font-weight="bold" text-anchor="start">L50S (Fluorescence)</text>
<text x="578.6" y="1625.4" font-size="20.9" font-weight="bold" text-anchor="start">L50S (CD)</text>
<rect x="1009" y="9.3" width="613.3" height="441.7" fill="none" stroke="#000" stroke-width="1.7"/>
<line x1="1002.7" y1="393.2" x2="1009" y2="393.2" stroke="#000" stroke-width="1.7"/>
<text x="989.3" y="401.5" font-size="24" font-weight="bold" text-anchor="end">0.0</text>
<line x1="1002.7" y1="329.22" x2="1009" y2="329.22" stroke="#000" stroke-width="1.7"/>
<text x="989.3" y="337.52" font-size="24" font-weight="bold" text-anchor="end">0.2</text>
<line x1="1002.7" y1="265.24" x2="1009" y2="265.24" stroke="#000" stroke-width="1.7"/>
<text x="989.3" y="273.54" font-size="24" font-weight="bold" text-anchor="end">0.4</text>
<line x1="1002.7" y1="201.26" x2="1009" y2="201.26" stroke="#000" stroke-width="1.7"/>
<text x="989.3" y="209.56" font-size="24" font-weight="bold" text-anchor="end">0.6</text>
<line x1="1002.7" y1="137.28" x2="1009" y2="137.28" stroke="#000" stroke-width="1.7"/>
<text x="989.3" y="145.58" font-size="24" font-weight="bold" text-anchor="end">0.8</text>
<line x1="1002.7" y1="73.3" x2="1009" y2="73.3" stroke="#000" stroke-width="1.7"/>
<text x="989.3" y="81.6" font-size="24" font-weight="bold" text-anchor="end">1.0</text>
<line x1="1002.7" y1="9.32" x2="1009" y2="9.32" stroke="#000" stroke-width="1.7"/>
<text x="989.3" y="17.62" font-size="24" font-weight="bold" text-anchor="end">1.2</text>
<line x1="1102.2" y1="451" x2="1102.2" y2="458" stroke="#000" stroke-width="1.7"/>
<text x="1102.2" y="492.2" font-size="24" font-weight="bold" text-anchor="middle">0</text>
<line x1="1206.12" y1="451" x2="1206.12" y2="458" stroke="#000" stroke-width="1.7"/>
<text x="1206.12" y="492.2" font-size="24" font-weight="bold" text-anchor="middle">2</text>
<line x1="1310.04" y1="451" x2="1310.04" y2="458" stroke="#000" stroke-width="1.7"/>
<text x="1310.04" y="492.2" font-size="24" font-weight="bold" text-anchor="middle">4</text>
<line x1="1413.96" y1="451" x2="1413.96" y2="458" stroke="#000" stroke-width="1.7"/>
<text x="1413.96" y="492.2" font-size="24" font-weight="bold" text-anchor="middle">6</text>
<line x1="1517.88" y1="451" x2="1517.88" y2="458" stroke="#000" stroke-width="1.7"/>
<text x="1517.88" y="492.2" font-size="24" font-weight="bold" text-anchor="middle">8</text>
<line x1="1621.8" y1="451" x2="1621.8" y2="458" stroke="#000" stroke-width="1.7"/>
<text x="1621.8" y="492.2" font-size="24" font-weight="bold" text-anchor="middle">10</text>
<text transform="translate(934.5,229.6) rotate(-90)" font-size="27.5" font-weight="bold" text-anchor="middle">Denaturation degree (<tspan font-family="DejaVu Serif, Liberation Serif, serif" font-size="25" font-weight="normal" font-style="normal">&#945;</tspan>)</text>
<text x="1315.9" y="538.2" font-size="27.5" font-weight="bold" text-anchor="middle">[Urea] (M)</text>
<text x="825.2" y="247.2" font-size="55" font-weight="bold" text-anchor="start">(D)</text>
<ellipse cx="1128.18" cy="386.48" rx="5.8" ry="5.65" fill="#000"/>
<ellipse cx="1154.16" cy="373.05" rx="5.8" ry="5.65" fill="#000"/>
<ellipse cx="1180.14" cy="358.33" rx="5.8" ry="5.65" fill="#000"/>
<ellipse cx="1193.13" cy="352.57" rx="5.8" ry="5.65" fill="#000"/>
<ellipse cx="1206.12" cy="340.74" rx="5.8" ry="5.65" fill="#000"/>
<ellipse cx="1219.11" cy="320.9" rx="5.8" ry="5.65" fill="#000"/>
<ellipse cx="1232.1" cy="292.11" rx="5.8" ry="5.65" fill="#000"/>
<ellipse cx="1245.09" cy="215.34" rx="5.8" ry="5.65" fill="#000"/>
<ellipse cx="1258.08" cy="153.28" rx="5.8" ry="5.65" fill="#000"/>
<ellipse cx="1271.07" cy="122.56" rx="5.8" ry="5.65" fill="#000"/>
<ellipse cx="1310.04" cy="100.49" rx="5.8" ry="5.65" fill="#000"/>
<ellipse cx="1336.02" cy="96.97" rx="5.8" ry="5.65" fill="#000"/>
<ellipse cx="1349.01" cy="91.85" rx="5.8" ry="5.65" fill="#000"/>
<ellipse cx="1362" cy="90.57" rx="5.8" ry="5.65" fill="#000"/>
<ellipse cx="1387.98" cy="91.53" rx="5.8" ry="5.65" fill="#000"/>
<ellipse cx="1400.97" cy="87.38" rx="5.8" ry="5.65" fill="#000"/>
<ellipse cx="1413.96" cy="81.94" rx="5.8" ry="5.65" fill="#000"/>
<ellipse cx="1439.94" cy="89.3" rx="5.8" ry="5.65" fill="#000"/>
<ellipse cx="1465.92" cy="77.78" rx="5.8" ry="5.65" fill="#000"/>
<ellipse cx="1102.2" cy="393.2" rx="4.95" ry="4.75" fill="#fff" stroke="#000" stroke-width="1.6"/>
<ellipse cx="1154.16" cy="368.89" rx="4.95" ry="4.75" fill="#fff" stroke="#000" stroke-width="1.6"/>
<ellipse cx="1206.12" cy="352.25" rx="4.95" ry="4.75" fill="#fff" stroke="#000" stroke-width="1.6"/>
<ellipse cx="1219.11" cy="323.46" rx="4.95" ry="4.75" fill="#fff" stroke="#000" stroke-width="1.6"/>
<ellipse cx="1232.1" cy="243.17" rx="4.95" ry="4.75" fill="#fff" stroke="#000" stroke-width="1.6"/>
<ellipse cx="1245.09" cy="199.34" rx="4.95" ry="4.75" fill="#fff" stroke="#000" stroke-width="1.6"/>
<ellipse cx="1258.08" cy="161.27" rx="4.95" ry="4.75" fill="#fff" stroke="#000" stroke-width="1.6"/>
<ellipse cx="1271.07" cy="128" rx="4.95" ry="4.75" fill="#fff" stroke="#000" stroke-width="1.6"/>
<ellipse cx="1284.06" cy="120.01" rx="4.95" ry="4.75" fill="#fff" stroke="#000" stroke-width="1.6"/>
<ellipse cx="1310.04" cy="91.21" rx="4.95" ry="4.75" fill="#fff" stroke="#000" stroke-width="1.6"/>
<ellipse cx="1362" cy="74.58" rx="4.95" ry="4.75" fill="#fff" stroke="#000" stroke-width="1.6"/>
<ellipse cx="1387.98" cy="70.42" rx="4.95" ry="4.75" fill="#fff" stroke="#000" stroke-width="1.6"/>
<ellipse cx="1413.96" cy="58.9" rx="4.95" ry="4.75" fill="#fff" stroke="#000" stroke-width="1.6"/>
<ellipse cx="1439.94" cy="74.58" rx="4.95" ry="4.75" fill="#fff" stroke="#000" stroke-width="1.6"/>
<ellipse cx="1465.92" cy="45.79" rx="4.95" ry="4.75" fill="#fff" stroke="#000" stroke-width="1.6"/>
<ellipse cx="1491.9" cy="37.79" rx="4.95" ry="4.75" fill="#fff" stroke="#000" stroke-width="1.6"/>
<ellipse cx="1517.88" cy="73.3" rx="4.95" ry="4.75" fill="#fff" stroke="#000" stroke-width="1.6"/>
<rect x="1325.6" y="371.3" width="292.7" height="74.3" fill="#fff" stroke="#000" stroke-width="1.7"/>
<ellipse cx="1361.4" cy="395.2" rx="5.7" ry="5.6" fill="#000"/>
<ellipse cx="1361.4" cy="422.2" rx="4.7" ry="4.5" fill="#fff" stroke="#000" stroke-width="1.6"/>
<text x="1396" y="402.4" font-size="20.9" font-weight="bold" text-anchor="start">L54S (Fluorescence)</text>
<text x="1396" y="429.4" font-size="20.9" font-weight="bold" text-anchor="start">L54S (CD)</text>
<rect x="1010.9" y="601.6" width="613.3" height="441.8" fill="none" stroke="#000" stroke-width="1.7"/>
<line x1="1004.6" y1="985.5" x2="1010.9" y2="985.5" stroke="#000" stroke-width="1.7"/>
<text x="991.2" y="993.8" font-size="24" font-weight="bold" text-anchor="end">0.0</text>
<line x1="1004.6" y1="921.52" x2="1010.9" y2="921.52" stroke="#000" stroke-width="1.7"/>
<text x="991.2" y="929.82" font-size="24" font-weight="bold" text-anchor="end">0.2</text>
<line x1="1004.6" y1="857.54" x2="1010.9" y2="857.54" stroke="#000" stroke-width="1.7"/>
<text x="991.2" y="865.84" font-size="24" font-weight="bold" text-anchor="end">0.4</text>
<line x1="1004.6" y1="793.56" x2="1010.9" y2="793.56" stroke="#000" stroke-width="1.7"/>
<text x="991.2" y="801.86" font-size="24" font-weight="bold" text-anchor="end">0.6</text>
<line x1="1004.6" y1="729.58" x2="1010.9" y2="729.58" stroke="#000" stroke-width="1.7"/>
<text x="991.2" y="737.88" font-size="24" font-weight="bold" text-anchor="end">0.8</text>
<line x1="1004.6" y1="665.6" x2="1010.9" y2="665.6" stroke="#000" stroke-width="1.7"/>
<text x="991.2" y="673.9" font-size="24" font-weight="bold" text-anchor="end">1.0</text>
<line x1="1004.6" y1="601.62" x2="1010.9" y2="601.62" stroke="#000" stroke-width="1.7"/>
<text x="991.2" y="609.92" font-size="24" font-weight="bold" text-anchor="end">1.2</text>
<line x1="1104.6" y1="1043.4" x2="1104.6" y2="1050.4" stroke="#000" stroke-width="1.7"/>
<text x="1104.6" y="1084.6" font-size="24" font-weight="bold" text-anchor="middle">0</text>
<line x1="1208.56" y1="1043.4" x2="1208.56" y2="1050.4" stroke="#000" stroke-width="1.7"/>
<text x="1208.56" y="1084.6" font-size="24" font-weight="bold" text-anchor="middle">2</text>
<line x1="1312.52" y1="1043.4" x2="1312.52" y2="1050.4" stroke="#000" stroke-width="1.7"/>
<text x="1312.52" y="1084.6" font-size="24" font-weight="bold" text-anchor="middle">4</text>
<line x1="1416.48" y1="1043.4" x2="1416.48" y2="1050.4" stroke="#000" stroke-width="1.7"/>
<text x="1416.48" y="1084.6" font-size="24" font-weight="bold" text-anchor="middle">6</text>
<line x1="1520.44" y1="1043.4" x2="1520.44" y2="1050.4" stroke="#000" stroke-width="1.7"/>
<text x="1520.44" y="1084.6" font-size="24" font-weight="bold" text-anchor="middle">8</text>
<line x1="1624.4" y1="1043.4" x2="1624.4" y2="1050.4" stroke="#000" stroke-width="1.7"/>
<text x="1624.4" y="1084.6" font-size="24" font-weight="bold" text-anchor="middle">10</text>
<text transform="translate(937.1,821.9) rotate(-90)" font-size="27.5" font-weight="bold" text-anchor="middle">Denaturation Degree (<tspan font-family="DejaVu Serif, Liberation Serif, serif" font-size="25" font-weight="normal" font-style="normal">&#945;</tspan>)</text>
<text x="1318" y="1130" font-size="27.5" font-weight="bold" text-anchor="middle">[Urea] (M)</text>
<text x="830.8" y="836.8" font-size="55" font-weight="bold" text-anchor="start">(E)</text>
<ellipse cx="1109.8" cy="978.46" rx="5.8" ry="5.65" fill="#000"/>
<ellipse cx="1115" cy="972.7" rx="5.8" ry="5.65" fill="#000"/>
<ellipse cx="1120.19" cy="969.82" rx="5.8" ry="5.65" fill="#000"/>
<ellipse cx="1125.39" cy="962.79" rx="5.8" ry="5.65" fill="#000"/>
<ellipse cx="1135.79" cy="934.96" rx="5.8" ry="5.65" fill="#000"/>
<ellipse cx="1140.99" cy="922.8" rx="5.8" ry="5.65" fill="#000"/>
<ellipse cx="1151.38" cy="912.56" rx="5.8" ry="5.65" fill="#000"/>
<ellipse cx="1156.58" cy="894.65" rx="5.8" ry="5.65" fill="#000"/>
<ellipse cx="1169.57" cy="881.21" rx="5.8" ry="5.65" fill="#000"/>
<ellipse cx="1182.57" cy="856.58" rx="5.8" ry="5.65" fill="#000"/>
<ellipse cx="1195.56" cy="845.7" rx="5.8" ry="5.65" fill="#000"/>
<ellipse cx="1234.55" cy="773.41" rx="5.8" ry="5.65" fill="#000"/>
<ellipse cx="1247.54" cy="754.21" rx="5.8" ry="5.65" fill="#000"/>
<ellipse cx="1312.52" cy="691.51" rx="5.8" ry="5.65" fill="#000"/>
<ellipse cx="1351.5" cy="684.15" rx="5.8" ry="5.65" fill="#000"/>
<ellipse cx="1364.5" cy="679.36" rx="5.8" ry="5.65" fill="#000"/>
<ellipse cx="1377.49" cy="670.4" rx="5.8" ry="5.65" fill="#000"/>
<ellipse cx="1390.49" cy="665.6" rx="5.8" ry="5.65" fill="#000"/>
<ellipse cx="1403.48" cy="672.64" rx="5.8" ry="5.65" fill="#000"/>
<ellipse cx="1416.48" cy="672" rx="5.8" ry="5.65" fill="#000"/>
<ellipse cx="1429.47" cy="667.84" rx="5.8" ry="5.65" fill="#000"/>
<ellipse cx="1442.47" cy="663.04" rx="5.8" ry="5.65" fill="#000"/>
<ellipse cx="1455.46" cy="672.96" rx="5.8" ry="5.65" fill="#000"/>
<ellipse cx="1468.46" cy="669.44" rx="5.8" ry="5.65" fill="#000"/>
<ellipse cx="1104.6" cy="985.5" rx="4.95" ry="4.75" fill="#fff" stroke="#000" stroke-width="1.6"/>
<ellipse cx="1130.59" cy="944.55" rx="4.95" ry="4.75" fill="#fff" stroke="#000" stroke-width="1.6"/>
<ellipse cx="1156.58" cy="921.84" rx="4.95" ry="4.75" fill="#fff" stroke="#000" stroke-width="1.6"/>
<ellipse cx="1182.57" cy="827.15" rx="4.95" ry="4.75" fill="#fff" stroke="#000" stroke-width="1.6"/>
<ellipse cx="1234.55" cy="749.41" rx="4.95" ry="4.75" fill="#fff" stroke="#000" stroke-width="1.6"/>
<ellipse cx="1260.54" cy="741.1" rx="4.95" ry="4.75" fill="#fff" stroke="#000" stroke-width="1.6"/>
<ellipse cx="1286.53" cy="718.06" rx="4.95" ry="4.75" fill="#fff" stroke="#000" stroke-width="1.6"/>
<ellipse cx="1312.52" cy="648.65" rx="4.95" ry="4.75" fill="#fff" stroke="#000" stroke-width="1.6"/>
<ellipse cx="1338.51" cy="654.72" rx="4.95" ry="4.75" fill="#fff" stroke="#000" stroke-width="1.6"/>
<ellipse cx="1377.49" cy="683.19" rx="4.95" ry="4.75" fill="#fff" stroke="#000" stroke-width="1.6"/>
<ellipse cx="1403.48" cy="713.9" rx="4.95" ry="4.75" fill="#fff" stroke="#000" stroke-width="1.6"/>
<ellipse cx="1416.48" cy="712.63" rx="4.95" ry="4.75" fill="#fff" stroke="#000" stroke-width="1.6"/>
<ellipse cx="1468.46" cy="656.64" rx="4.95" ry="4.75" fill="#fff" stroke="#000" stroke-width="1.6"/>
<ellipse cx="1520.44" cy="665.6" rx="4.95" ry="4.75" fill="#fff" stroke="#000" stroke-width="1.6"/>
<rect x="1331.9" y="962.7" width="287.9" height="74.7" fill="#fff" stroke="#000" stroke-width="1.7"/>
<ellipse cx="1367.1" cy="986.7" rx="5.7" ry="5.6" fill="#000"/>
<ellipse cx="1367.1" cy="1013.1" rx="4.7" ry="4.5" fill="#fff" stroke="#000" stroke-width="1.6"/>
<text x="1402.2" y="993.9" font-size="20.9" font-weight="bold" text-anchor="start">L81N (Fluorescence)</text>
<text x="1402.2" y="1020.3" font-size="20.9" font-weight="bold" text-anchor="start">L81N (CD)</text>
<rect x="1010.9" y="1208.3" width="613.3" height="441.7" fill="none" stroke="#000" stroke-width="1.7"/>
<line x1="1004.6" y1="1592.2" x2="1010.9" y2="1592.2" stroke="#000" stroke-width="1.7"/>
<text x="991.2" y="1600.5" font-size="24" font-weight="bold" text-anchor="end">0.0</text>
<line x1="1004.6" y1="1528.22" x2="1010.9" y2="1528.22" stroke="#000" stroke-width="1.7"/>
<text x="991.2" y="1536.52" font-size="24" font-weight="bold" text-anchor="end">0.2</text>
<line x1="1004.6" y1="1464.24" x2="1010.9" y2="1464.24" stroke="#000" stroke-width="1.7"/>
<text x="991.2" y="1472.54" font-size="24" font-weight="bold" text-anchor="end">0.4</text>
<line x1="1004.6" y1="1400.26" x2="1010.9" y2="1400.26" stroke="#000" stroke-width="1.7"/>
<text x="991.2" y="1408.56" font-size="24" font-weight="bold" text-anchor="end">0.6</text>
<line x1="1004.6" y1="1336.28" x2="1010.9" y2="1336.28" stroke="#000" stroke-width="1.7"/>
<text x="991.2" y="1344.58" font-size="24" font-weight="bold" text-anchor="end">0.8</text>
<line x1="1004.6" y1="1272.3" x2="1010.9" y2="1272.3" stroke="#000" stroke-width="1.7"/>
<text x="991.2" y="1280.6" font-size="24" font-weight="bold" text-anchor="end">1.0</text>
<line x1="1004.6" y1="1208.32" x2="1010.9" y2="1208.32" stroke="#000" stroke-width="1.7"/>
<text x="991.2" y="1216.62" font-size="24" font-weight="bold" text-anchor="end">1.2</text>
<line x1="1104.6" y1="1650" x2="1104.6" y2="1657" stroke="#000" stroke-width="1.7"/>
<text x="1104.6" y="1691.2" font-size="24" font-weight="bold" text-anchor="middle">0</text>
<line x1="1208.56" y1="1650" x2="1208.56" y2="1657" stroke="#000" stroke-width="1.7"/>
<text x="1208.56" y="1691.2" font-size="24" font-weight="bold" text-anchor="middle">2</text>
<line x1="1312.52" y1="1650" x2="1312.52" y2="1657" stroke="#000" stroke-width="1.7"/>
<text x="1312.52" y="1691.2" font-size="24" font-weight="bold" text-anchor="middle">4</text>
<line x1="1416.48" y1="1650" x2="1416.48" y2="1657" stroke="#000" stroke-width="1.7"/>
<text x="1416.48" y="1691.2" font-size="24" font-weight="bold" text-anchor="middle">6</text>
<line x1="1520.44" y1="1650" x2="1520.44" y2="1657" stroke="#000" stroke-width="1.7"/>
<text x="1520.44" y="1691.2" font-size="24" font-weight="bold" text-anchor="middle">8</text>
<line x1="1624.4" y1="1650" x2="1624.4" y2="1657" stroke="#000" stroke-width="1.7"/>
<text x="1624.4" y="1691.2" font-size="24" font-weight="bold" text-anchor="middle">10</text>
<text transform="translate(937.1,1428.5) rotate(-90)" font-size="27.5" font-weight="bold" text-anchor="middle">Denaturation degree (<tspan font-family="DejaVu Serif, Liberation Serif, serif" font-size="25" font-weight="normal" font-style="normal">&#945;</tspan>)</text>
<text x="1318" y="1737" font-size="27.5" font-weight="bold" text-anchor="middle">[Urea] (M)</text>
<text x="830.6" y="1442.7" font-size="59.5" font-weight="bold" text-anchor="start">(F)</text>
<ellipse cx="1115" cy="1586.44" rx="5.8" ry="5.65" fill="#000"/>
<ellipse cx="1120.19" cy="1583.56" rx="5.8" ry="5.65" fill="#000"/>
<ellipse cx="1125.39" cy="1581.32" rx="5.8" ry="5.65" fill="#000"/>
<ellipse cx="1135.79" cy="1568.85" rx="5.8" ry="5.65" fill="#000"/>
<ellipse cx="1140.99" cy="1566.93" rx="5.8" ry="5.65" fill="#000"/>
<ellipse cx="1146.18" cy="1554.77" rx="5.8" ry="5.65" fill="#000"/>
<ellipse cx="1151.38" cy="1553.81" rx="5.8" ry="5.65" fill="#000"/>
<ellipse cx="1156.58" cy="1540.7" rx="5.8" ry="5.65" fill="#000"/>
<ellipse cx="1169.57" cy="1494.31" rx="5.8" ry="5.65" fill="#000"/>
<ellipse cx="1182.57" cy="1435.13" rx="5.8" ry="5.65" fill="#000"/>
<ellipse cx="1195.56" cy="1412.1" rx="5.8" ry="5.65" fill="#000"/>
<ellipse cx="1234.55" cy="1342.04" rx="5.8" ry="5.65" fill="#000"/>
<ellipse cx="1247.54" cy="1316.77" rx="5.8" ry="5.65" fill="#000"/>
<ellipse cx="1286.53" cy="1296.61" rx="5.8" ry="5.65" fill="#000"/>
<ellipse cx="1312.52" cy="1293.41" rx="5.8" ry="5.65" fill="#000"/>
<ellipse cx="1351.5" cy="1280.62" rx="5.8" ry="5.65" fill="#000"/>
<ellipse cx="1364.5" cy="1278.7" rx="5.8" ry="5.65" fill="#000"/>
<ellipse cx="1377.49" cy="1281.26" rx="5.8" ry="5.65" fill="#000"/>
<ellipse cx="1390.49" cy="1274.22" rx="5.8" ry="5.65" fill="#000"/>
<ellipse cx="1403.48" cy="1275.82" rx="5.8" ry="5.65" fill="#000"/>
<ellipse cx="1416.48" cy="1275.5" rx="5.8" ry="5.65" fill="#000"/>
<ellipse cx="1429.47" cy="1271.02" rx="5.8" ry="5.65" fill="#000"/>
<ellipse cx="1442.47" cy="1273.58" rx="5.8" ry="5.65" fill="#000"/>
<ellipse cx="1455.46" cy="1271.02" rx="5.8" ry="5.65" fill="#000"/>
<ellipse cx="1468.46" cy="1272.3" rx="5.8" ry="5.65" fill="#000"/>
<ellipse cx="1104.6" cy="1592.2" rx="4.95" ry="4.75" fill="#fff" stroke="#000" stroke-width="1.6"/>
<ellipse cx="1130.59" cy="1573.33" rx="4.95" ry="4.75" fill="#fff" stroke="#000" stroke-width="1.6"/>
<ellipse cx="1156.58" cy="1525.66" rx="4.95" ry="4.75" fill="#fff" stroke="#000" stroke-width="1.6"/>
<ellipse cx="1182.57" cy="1440.89" rx="4.95" ry="4.75" fill="#fff" stroke="#000" stroke-width="1.6"/>
<ellipse cx="1208.56" cy="1418.81" rx="4.95" ry="4.75" fill="#fff" stroke="#000" stroke-width="1.6"/>
<ellipse cx="1234.55" cy="1359.95" rx="4.95" ry="4.75" fill="#fff" stroke="#000" stroke-width="1.6"/>
<ellipse cx="1247.54" cy="1356.75" rx="4.95" ry="4.75" fill="#fff" stroke="#000" stroke-width="1.6"/>
<ellipse cx="1260.54" cy="1379.47" rx="4.95" ry="4.75" fill="#fff" stroke="#000" stroke-width="1.6"/>
<ellipse cx="1286.53" cy="1362.51" rx="4.95" ry="4.75" fill="#fff" stroke="#000" stroke-width="1.6"/>
<ellipse cx="1312.52" cy="1299.49" rx="4.95" ry="4.75" fill="#fff" stroke="#000" stroke-width="1.6"/>
<ellipse cx="1338.51" cy="1269.42" rx="4.95" ry="4.75" fill="#fff" stroke="#000" stroke-width="1.6"/>
<ellipse cx="1364.5" cy="1328.92" rx="4.95" ry="4.75" fill="#fff" stroke="#000" stroke-width="1.6"/>
<ellipse cx="1377.49" cy="1292.45" rx="4.95" ry="4.75" fill="#fff" stroke="#000" stroke-width="1.6"/>
<ellipse cx="1390.49" cy="1312.61" rx="4.95" ry="4.75" fill="#fff" stroke="#000" stroke-width="1.6"/>
<ellipse cx="1403.48" cy="1320.92" rx="4.95" ry="4.75" fill="#fff" stroke="#000" stroke-width="1.6"/>
<ellipse cx="1416.48" cy="1304.93" rx="4.95" ry="4.75" fill="#fff" stroke="#000" stroke-width="1.6"/>
<ellipse cx="1442.47" cy="1294.37" rx="4.95" ry="4.75" fill="#fff" stroke="#000" stroke-width="1.6"/>
<ellipse cx="1468.46" cy="1250.23" rx="4.95" ry="4.75" fill="#fff" stroke="#000" stroke-width="1.6"/>
<ellipse cx="1494.45" cy="1238.39" rx="4.95" ry="4.75" fill="#fff" stroke="#000" stroke-width="1.6"/>
<ellipse cx="1520.44" cy="1272.3" rx="4.95" ry="4.75" fill="#fff" stroke="#000" stroke-width="1.6"/>
<rect x="1332.9" y="1569.2" width="286.9" height="75.2" fill="#fff" stroke="#000" stroke-width="1.7"/>
<ellipse cx="1368.6" cy="1593.8" rx="5.7" ry="5.6" fill="#000"/>
<ellipse cx="1368.6" cy="1620.2" rx="4.7" ry="4.5" fill="#fff" stroke="#000" stroke-width="1.6"/>
<text x="1403.6" y="1601" font-size="20.9" font-weight="bold" text-anchor="start">I88N (Fluorescence)</text>
<text x="1403.6" y="1627.4" font-size="20.9" font-weight="bold" text-anchor="start">I88N (CD)</text>
</svg>
</body></html>
